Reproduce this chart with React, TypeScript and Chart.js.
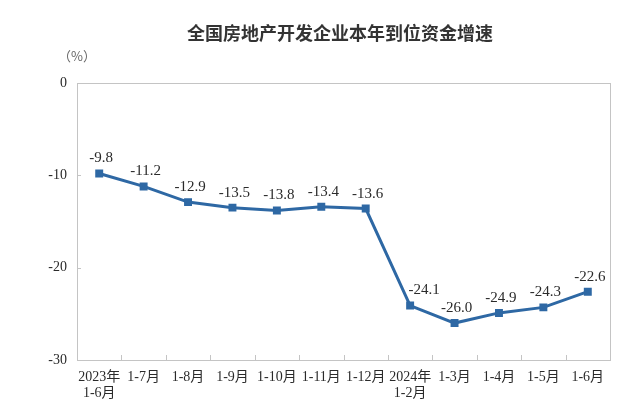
import React, { useEffect, useRef } from "react";
import { Chart, registerables } from "chart.js";

Chart.register(...registerables);

const title = "全国房地产开发企业本年到位资金增速";
const unitLabel = "（%）";
const categories: string[][] = [
  ["2023年", "1-6月"],
  ["1-7月"],
  ["1-8月"],
  ["1-9月"],
  ["1-10月"],
  ["1-11月"],
  ["1-12月"],
  ["2024年", "1-2月"],
  ["1-3月"],
  ["1-4月"],
  ["1-5月"],
  ["1-6月"],
];
const growth: number[] = [-9.8, -11.2, -12.9, -13.5, -13.8, -13.4, -13.6, -24.1, -26.0, -24.9, -24.3, -22.6];
const yTicks: number[] = [0, -10, -20, -30];

const LINE_COLOR = "#2e68a4";
const TEXT_COLOR = "#2a2a2a";
const SERIF = "'Liberation Serif', 'Noto Sans CJK SC', serif";

const decorPlugin = {
  id: "decor",
  beforeDatasetsDraw(chart: any) {
    const { ctx, chartArea } = chart;
    const xs = chart.scales.x;
    const ys = chart.scales.y;
    ctx.save();
    ctx.strokeStyle = "#c4c4c4";
    ctx.lineWidth = 1;
    ctx.strokeRect(
      Math.round(chartArea.left) + 0.5,
      Math.round(chartArea.top) + 0.5,
      Math.round(chartArea.right - chartArea.left),
      Math.round(chartArea.bottom - chartArea.top)
    );
    // x tick marks at category boundaries, pointing inward
    for (let i = 0; i < categories.length - 1; i++) {
      const x = Math.round((xs.getPixelForValue(i) + xs.getPixelForValue(i + 1)) / 2) + 0.5;
      ctx.beginPath();
      ctx.moveTo(x, chartArea.bottom);
      ctx.lineTo(x, chartArea.bottom - 5);
      ctx.stroke();
    }
    // y tick marks inward
    for (const v of yTicks) {
      if (v === 0 || v === -30) continue;
      const y = Math.round(ys.getPixelForValue(v)) + 0.5;
      ctx.beginPath();
      ctx.moveTo(chartArea.left, y);
      ctx.lineTo(chartArea.left + 4, y);
      ctx.stroke();
    }
    ctx.restore();
  },
  afterDraw(chart: any) {
    const { ctx } = chart;
    ctx.save();
    ctx.fillStyle = "#333";
    ctx.font = "bold 18px 'Noto Sans CJK SC', sans-serif";
    ctx.textAlign = "center";
    ctx.textBaseline = "middle";
    ctx.fillText(title, 340, 33);
    ctx.fillStyle = "#666";
    ctx.font = "13px 'Noto Sans CJK SC', serif";
    ctx.fillText(unitLabel, 77, 56);

    // data labels
    const meta = chart.getDatasetMeta(0);
    ctx.fillStyle = TEXT_COLOR;
    ctx.font = "15px " + SERIF;
    meta.data.forEach((pt: any, i: number) => {
      const v = growth[i];
      let dx = 2;
      if (i > 0 && growth[i - 1] - v > 5) dx = 14;
      ctx.fillText(v.toFixed(1), pt.x + dx, pt.y - 15);
    });
    ctx.restore();
  },
};

export default function App() {
  const canvasRef = useRef<HTMLCanvasElement | null>(null);

  useEffect(() => {
    if (!canvasRef.current) return;
    const chart = new Chart(canvasRef.current, {
      type: "line",
      data: {
        labels: categories,
        datasets: [
          {
            data: growth,
            borderColor: LINE_COLOR,
            backgroundColor: LINE_COLOR,
            borderWidth: 3,
            pointStyle: "rect",
            pointRadius: 3.5,
            pointHoverRadius: 3.5,
            tension: 0,
          },
        ],
      },
      options: {
        animation: false,
        responsive: false,
        layout: { padding: { top: 83, right: 30, left: 0, bottom: 0 } },
        plugins: {
          legend: { display: false },
          title: { display: false },
          tooltip: { enabled: false },
        },
        scales: {
          x: {
            offset: true,
            grid: { display: false, drawTicks: false },
            border: { display: false },
            ticks: {
              autoSkip: false,
              maxRotation: 0,
              minRotation: 0,
              padding: 10,
              color: TEXT_COLOR,
              font: { family: SERIF, size: 14, lineHeight: 1.1 },
            },
            afterFit(scale: any) {
              scale.height = 51;
            },
          },
          y: {
            min: -30,
            max: 0,
            grid: { display: false, drawTicks: false },
            border: { display: false },
            ticks: {
              stepSize: 10,
              padding: 10,
              color: TEXT_COLOR,
              font: { family: SERIF, size: 14 },
            },
            afterFit(scale: any) {
              scale.width = 77;
            },
          },
        },
      },
      plugins: [decorPlugin],
    });
    return () => chart.destroy();
  }, []);

  return (
    <div style={{ position: "absolute", left: 0, top: 0, width: 640, height: 411, background: "#fff" }}>
      <canvas ref={canvasRef} width={640} height={411} />
    </div>
  );
}
